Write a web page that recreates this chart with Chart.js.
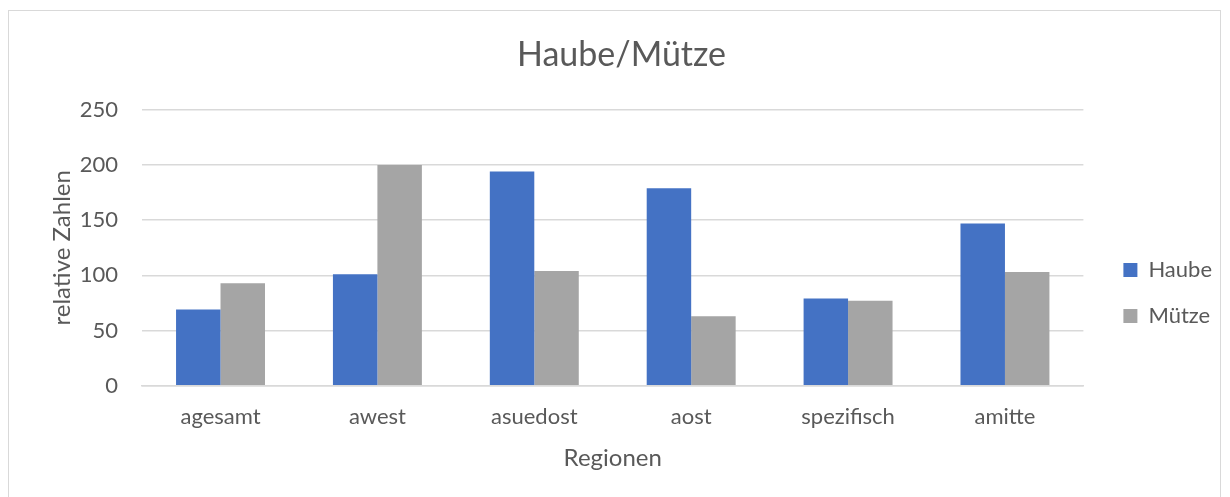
<!DOCTYPE html>
<html>
<head>
<meta charset="utf-8">
<script src="https://cdn.jsdelivr.net/npm/chart.js@4.4.1/dist/chart.umd.min.js"></script>
<style>
  html, body { margin: 0; padding: 0; background: #ffffff; }
  #frame {
    position: absolute; left: 8px; top: 10px;
    width: 1213px; height: 492px;
    border: 1px solid #d9d9d9; box-sizing: border-box;
  }
  #wrap { position: absolute; left: 0; top: 0; width: 1211px; height: 490px; }
</style>
</head>
<body>
<div id="frame"><div id="wrap"><canvas id="c"></canvas></div></div>
<script>
// Regions and relative counts per term
const regionen = ['agesamt', 'awest', 'asuedost', 'aost', 'spezifisch', 'amitte'];
const haube = [69, 101, 194, 179, 79, 147];
const muetze = [93, 200, 104, 63, 77, 103];
const yTicks = [0, 50, 100, 150, 200, 250];

const FONT = "Lato, 'Open Sans', sans-serif";
const TXT = '#595959';
const GRID = '#d9d9d9';

// Nudge the legend: a wider gap to the plot and a slightly lower position
const legendGap = {
  id: 'legendGap',
  afterLayout(chart) {
    const lg = chart.legend;
    if (!lg) return;
    const dx = 16, dy = 39;
    lg.left += dx; lg.right += dx;
    lg.top += dy; lg.bottom += dy;
  }
};

new Chart(document.getElementById('c'), {
  type: 'bar',
  data: {
    labels: regionen,
    datasets: [
      { label: 'Haube', data: haube, backgroundColor: '#4472c4' },
      { label: 'Mütze', data: muetze, backgroundColor: '#a5a5a5' }
    ]
  },
  plugins: [legendGap],
  options: {
    responsive: true,
    maintainAspectRatio: false,
    animation: false,
    layout: { padding: { top: 24, left: 28, right: 14, bottom: 28 } },
    datasets: { bar: { categoryPercentage: 0.567, barPercentage: 1.0 } },
    plugins: {
      title: {
        display: true,
        text: 'Haube/Mütze',
        color: TXT,
        font: { family: FONT, size: 34, weight: 'normal' },
        padding: { top: 0, bottom: 34 }
      },
      legend: {
        position: 'right',
        labels: {
          color: TXT,
          font: { family: FONT, size: 22 },
          boxWidth: 14, boxHeight: 14,
          padding: 24
        }
      },
      tooltip: { enabled: false }
    },
    scales: {
      x: {
        grid: { display: false, drawTicks: false },
        border: { color: GRID, width: 1.5 },
        ticks: { color: TXT, font: { family: FONT, size: 22 }, padding: 18 },
        title: { display: true, text: 'Regionen', color: TXT, font: { family: FONT, size: 24 }, padding: { top: -4, bottom: 0 } }
      },
      y: {
        min: 0, max: 250,
        afterBuildTicks: (s) => { s.ticks = yTicks.map(v => ({ value: v })); },
        grid: { color: GRID, lineWidth: 1.5, drawTicks: false },
        border: { display: false },
        ticks: { color: TXT, font: { family: FONT, size: 22 }, padding: 24 },
        title: { display: true, text: 'relative Zahlen', color: TXT, font: { family: FONT, size: 24 }, padding: { top: 11, bottom: -21 } }
      }
    }
  }
});
</script>
</body>
</html>
